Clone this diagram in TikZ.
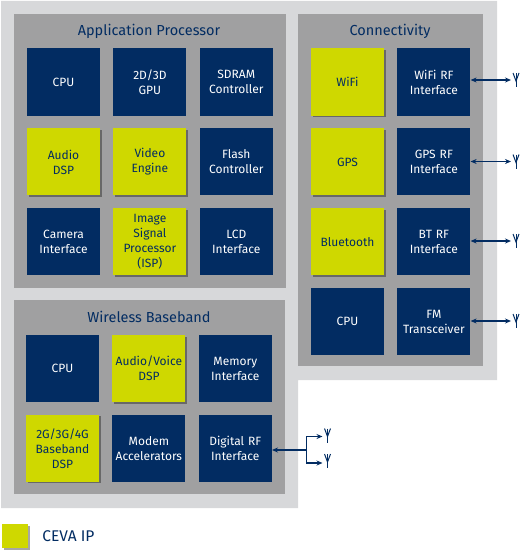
\documentclass[tikz,border=0pt]{standalone}
\usepackage{fontspec}
\setmainfont{Fira Sans}
\usepackage{xcolor}
\usepackage{tikz}
\usetikzlibrary{arrows.meta, positioning, shadows}
\definecolor{mynavy}{RGB}{2,44,98}
\definecolor{mylime}{RGB}{207,216,0}
\definecolor{mypanel}{RGB}{160,160,161}
\definecolor{myouter}{RGB}{215,216,218}
\tikzset{
  block/.style={rectangle, fill=mynavy, text=white, inner sep=0pt,
    minimum width=73pt, minimum height=67pt, text width=71pt, align=center,
    font=\fontsize{12}{15}\selectfont},
  limeblock/.style={block, fill=mylime, text=mynavy,
    drop shadow={shadow xshift=1.5pt, shadow yshift=-1.5pt, opacity=0.35, fill=black}},
  panel/.style={rectangle, fill=mypanel, inner sep=0pt, anchor=north west},
  title/.style={font=\fontsize{14.5}{18}\selectfont, text=mynavy, inner sep=0pt},
  arrow/.style={{Stealth[length=6pt,width=5pt]}-{Stealth[length=6pt,width=5pt]}, line width=1.2pt, color=mynavy},
  branch/.style={-{Stealth[length=6pt,width=5pt]}, line width=1.2pt, color=mynavy},
  antenna/.pic={
    \draw[mynavy, line width=1pt] (0,-7) -- (0,7);
    \draw[mynavy, line width=1pt] (-3,-7) -- (0,1) -- (3,-7);
  }
}
\begin{document}
\begin{tikzpicture}[x=1pt, y=-1pt, node distance=12.5pt and 13pt]
  \useasboundingbox (0,0) rectangle (520,551);
  % Background
  \fill[myouter] (1,1) -- (497,1) -- (497,380) -- (298,380) -- (298,508) -- (1,508) -- cycle;
  \node[panel, minimum width=272pt, minimum height=274pt] (apppanel) at (14,14) {};
  \node[panel, minimum width=185pt, minimum height=352pt] (connpanel) at (298,14) {};
  \node[panel, minimum width=271pt, minimum height=194pt] (wirepanel) at (14,300) {};

  % Application Processor
  \node[title] (apptitle) at (149,31) {Application Processor};
  \node[block] (appcpu) at (63.5,82) {CPU};
  \node[block, right=of appcpu] (gpu) {2D/3D\\GPU};
  \node[block, right=of gpu] (sdram) {SDRAM\\Controller};
  \node[limeblock, below=of appcpu] (audio) {Audio\\DSP};
  \node[limeblock, right=of audio] (video) {Video\\Engine};
  \node[block, right=of video] (flash) {Flash\\Controller};
  \node[block, below=of audio] (camera) {Camera\\Interface};
  \node[limeblock, right=of camera] (isp) {Image\\Signal\\Processor\\(ISP)};
  \node[block, right=of isp] (lcd) {LCD\\Interface};

  % Connectivity
  \node[title] (conntitle) at (390,31) {Connectivity};
  \node[limeblock] (wifi) at (347.5,82) {WiFi};
  \node[block, right=of wifi] (wifirf) {WiFi RF\\Interface};
  \node[limeblock, below=of wifi] (gps) {GPS};
  \node[block, right=of gps] (gpsrf) {GPS RF\\Interface};
  \node[limeblock, below=of gps] (bt) {Bluetooth};
  \node[block, right=of bt] (btrf) {BT RF\\Interface};
  \node[block, below=of bt] (conncpu) {CPU};
  \node[block, right=of conncpu] (fm) {FM\\Transceiver};

  % Wireless Baseband
  \node[title] (wiretitle) at (149,317) {Wireless Baseband};
  \node[block] (wirecpu) at (62.5,368.5) {CPU};
  \node[limeblock, right=of wirecpu] (voice) {Audio/Voice\\DSP};
  \node[block, right=of voice] (memory) {Memory\\Interface};
  \node[limeblock, below=of wirecpu] (baseband) {2G/3G/4G\\Baseband\\DSP};
  \node[block, right=of baseband] (modem) {Modem\\Accelerators};
  \node[block, right=of modem] (digrf) {Digital RF\\Interface};

  % Antennas
  \coordinate (wifiant) at (511,80);
  \coordinate (gpsant) at (511,161.5);
  \coordinate (btant) at (511,241);
  \coordinate (fmant) at (511,321);
  \coordinate (digjoin) at (306.5,450);
  \coordinate (digant1) at (322.5,436.5);
  \coordinate (digant2) at (322.5,463);
  \pic at (516,80) {antenna};
  \pic at (516,161.5) {antenna};
  \pic at (516,241) {antenna};
  \pic at (516,321) {antenna};
  \pic at (327.5,435.5) {antenna};
  \pic at (327.5,461) {antenna};

  \draw[arrow] (wifirf.east |- wifiant) -- (wifiant);
  \draw[arrow] (gpsrf.east |- gpsant) -- (gpsant);
  \draw[arrow] (btrf.east |- btant) -- (btant);
  \draw[arrow] (fm.east |- fmant) -- (fmant);
  \draw[branch] (digjoin) -- (digrf.east |- digjoin);
  \draw[branch] (digjoin) |- (digant1);
  \draw[branch] (digjoin) |- (digant2);

  % Legend
  \node[limeblock, minimum width=26pt, minimum height=24pt, text width=24pt] (legend) at (15,536) {};
  \node[title, anchor=west, font=\fontsize{15.5}{18}\selectfont, right=14pt of legend] (legendtext) {CEVA IP};
\end{tikzpicture}
\end{document}
